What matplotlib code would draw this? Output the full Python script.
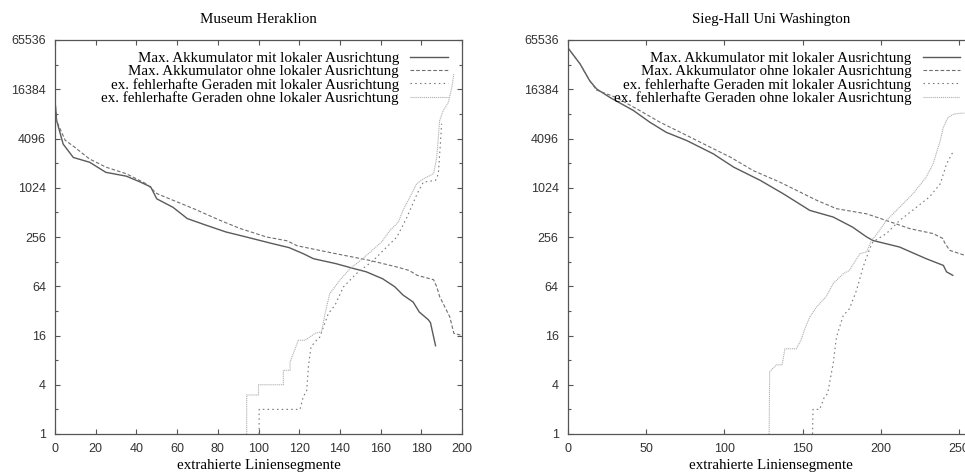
import matplotlib
matplotlib.use("Agg")
import matplotlib.pyplot as plt
from matplotlib.ticker import FixedLocator, NullFormatter

plt.rcParams.update(
    {
        "font.family": "Liberation Serif",
        "font.size": 10.8,
        "lines.scale_dashes": False,
        "axes.edgecolor": "#555555",
        "axes.linewidth": 0.9,
    }
)

LABELS = [
    "Max. Akkumulator mit lokaler Ausrichtung",
    "Max. Akkumulator ohne lokaler Ausrichtung",
    "ex. fehlerhafte Geraden mit lokaler Ausrichtung",
    "ex. fehlerhafte Geraden ohne lokaler Ausrichtung",
]

# Museum Heraklion
her_acc_mit_x = [0, 0.8, 4, 9, 17, 25, 35, 42, 47, 50, 58, 65, 74.5, 84, 94, 107, 115,
                 122, 127, 138, 147, 153, 161, 167, 171, 176, 179, 183.4, 184.5, 187]
her_acc_mit_y = [12000, 6800, 3500, 2400, 2100, 1580, 1420, 1200, 1050, 750, 590, 430, 355,
                 295, 256, 212, 190, 160, 139, 121, 105, 96, 79, 63, 50, 41, 31, 25, 23, 12]
her_acc_ohne_x = [0, 0.8, 5, 9, 17, 25, 35, 45, 50, 58, 68, 81, 91, 104, 114, 119, 138,
                  155, 168, 174, 178, 186, 187.6, 189, 194, 196, 200]
her_acc_ohne_y = [12000, 6700, 3900, 3300, 2300, 1830, 1520, 1140, 870, 720, 570, 410, 325,
                  256, 230, 200, 160, 132, 110, 100, 87, 77, 63, 48, 27, 17, 16]
her_err_mit_x = [100.3, 100.3, 120.4, 122, 123.7, 124.5, 125.8, 127.8, 130.2, 131.8, 134.3,
                 137.6, 141.7, 148, 156.4, 161.4, 168, 173, 178, 181, 187, 188.4, 190]
her_err_mit_y = [1, 2, 2, 2.85, 3.4, 6.6, 11.6, 13.4, 15.4, 20, 29.6, 37.5, 62.7, 91, 132,
                 176, 256, 449, 867, 1200, 1260, 1520, 6200]
her_err_ohne_x = [94.2, 94.2, 100, 100, 112.2, 112.2, 115.5, 115.5, 119.6, 122.9, 127.8, 131,
                  132.7, 135, 140, 145, 150, 155, 160.5, 164.6, 168.7, 171, 174.4, 177.7,
                  181, 186, 187.6, 189, 190.8, 193.3, 195, 196]
her_err_ohne_y = [1, 3, 3, 4, 4, 6, 6, 7.6, 14, 14, 17, 17.8, 29.6, 52, 76, 105, 132, 168,
                  223, 309, 388, 541, 787, 1144, 1314, 1520, 2420, 6800, 9000, 11300,
                  17300, 25200]

# Sieg-Hall Uni Washington
sieg_acc_mit_x = [0, 8, 14, 18.5, 27, 42, 52.5, 63, 76, 93, 106, 123, 137.6, 154.7, 169.6,
                  182, 191, 195, 212, 229, 240, 242, 246]
sieg_acc_mit_y = [53000, 33200, 20900, 16500, 13000, 9000, 6470, 4870, 3870, 2660, 1830,
                  1260, 867, 541, 449, 338, 256, 232, 193, 139, 115, 96, 87]
sieg_acc_ohne_x = [0, 8, 14, 18.5, 31, 46, 59, 74, 91, 104, 118.5, 135.5, 159, 171.7, 191,
                   203.6, 218.5, 233.4, 240, 240.5, 244, 253.6]
sieg_acc_ohne_y = [53000, 33200, 20900, 16000, 13000, 9000, 6470, 4670, 3210, 2420, 1660,
                   1200, 720, 568, 491, 407, 324, 282, 244, 223, 176, 153]
sieg_err_mit_x = [156.4, 156.7, 161, 164, 166, 169.6, 171.7, 176, 180, 184.5, 188.7, 193,
                  195, 203.6, 212, 222.8, 231, 238, 242, 246]
sieg_err_mit_y = [1, 2, 2, 2.85, 3.1, 7.3, 15.3, 28, 34, 57, 110, 185, 223, 282, 407, 592,
                  787, 1144, 2000, 2780]
sieg_err_ohne_x = [128.7, 129, 133.4, 137, 138.7, 146, 149, 151.5, 154.7, 159, 165, 169.6,
                   176, 180, 186.6, 191, 194, 197, 203.6, 212, 220.6, 229, 233.4, 238, 240,
                   243, 247, 253.6]
sieg_err_ohne_y = [1, 5.8, 7, 7, 11, 11, 14, 19.4, 27, 35.8, 47.5, 69, 91, 100, 160, 168,
                   232, 269, 407, 592, 867, 1380, 2000, 3870, 5630, 7430, 8190, 8400]

STYLES = [
    dict(color="#5a5a5a", linewidth=1.0, linestyle="-"),
    dict(color="#6e6e6e", linewidth=0.8, linestyle=(0, (2.6, 1.5))),
    dict(color="#777777", linewidth=0.8, linestyle=(0, (1.1, 2.3))),
    dict(color="#b0b0b0", linewidth=0.8, linestyle=(0, (0.8, 0.6))),
]

fig = plt.figure(figsize=(9.65, 4.76), dpi=100)
ax_left = fig.add_axes([55 / 965, 42 / 476, 407 / 965, 394 / 476])
ax_right = fig.add_axes([567.7 / 965, 42 / 476, 407 / 965, 394 / 476])

panels = [
    (ax_left, "Museum Heraklion", 200, range(0, 201, 20),
     [(her_acc_mit_x, her_acc_mit_y), (her_acc_ohne_x, her_acc_ohne_y),
      (her_err_mit_x, her_err_mit_y), (her_err_ohne_x, her_err_ohne_y)]),
    (ax_right, "Sieg-Hall Uni Washington", 260, range(0, 251, 50),
     [(sieg_acc_mit_x, sieg_acc_mit_y), (sieg_acc_ohne_x, sieg_acc_ohne_y),
      (sieg_err_mit_x, sieg_err_mit_y), (sieg_err_ohne_x, sieg_err_ohne_y)]),
]

for ax, title, xmax, xticks, series in panels:
    for (xs, ys), label, style in zip(series, LABELS, STYLES):
        ax.plot(xs, ys, label=label, **style)
    ax.set_yscale("log", base=2)
    ax.set_ylim(1, 65536)
    ax.set_xlim(0, xmax)
    ax.yaxis.set_major_locator(FixedLocator([4 ** k for k in range(9)]))
    ax.set_yticklabels([str(4 ** k) for k in range(9)])
    ax.yaxis.set_minor_locator(FixedLocator([2 ** (2 * k + 1) for k in range(8)]))
    ax.yaxis.set_minor_formatter(NullFormatter())
    ax.set_xticks(list(xticks))
    ax.tick_params(which="both", direction="in", top=True, right=True,
                   color="#555555", width=0.8)
    ax.tick_params(which="major", length=3.4, pad=6.5, labelsize=9,
                   labelcolor="#333333", labelfontfamily="Liberation Sans")
    ax.tick_params(which="minor", length=2.4)
    ax.set_title(title, fontsize=10.8, pad=12)
    ax.set_xlabel("extrahierte Liniensegmente", fontsize=10.8, labelpad=3)
    ax.legend(loc="upper right", bbox_to_anchor=(0.965, 0.971), frameon=False,
              markerfirst=False, fontsize=10.8, handlelength=2.53,
              handletextpad=0.73, labelspacing=-0.02, borderpad=0, borderaxespad=0)

fig.savefig("out.png", dpi=100)
